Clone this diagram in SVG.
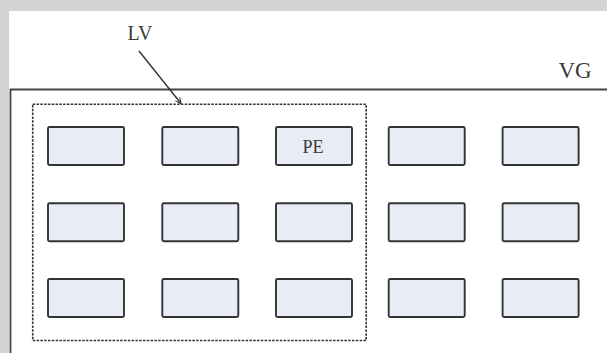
<svg xmlns="http://www.w3.org/2000/svg" width="607" height="353" viewBox="0 0 607 353">
  <style>
    .pe { fill: #e8ecf5; stroke: #333; stroke-width: 1.9; }
    .lbl { font-family: "Liberation Serif", "Times New Roman", serif; fill: #3a3a3a; }
  </style>
  <defs>
    <marker id="arr" viewBox="0 0 10 10" refX="9" refY="5" markerWidth="7" markerHeight="7" orient="auto" markerUnits="userSpaceOnUse">
      <path d="M1,1 L9,5 L1,9" fill="none" stroke="#333" stroke-width="1.5"/>
    </marker>
  </defs>
  <rect x="0" y="0" width="607" height="353" fill="#d4d4d4"/>
  <rect x="9" y="11" width="598" height="342" fill="#ffffff"/>

  <g id="VG">
    <path d="M10.5,353 L10.5,89.5 L607,89.5" fill="none" stroke="#444" stroke-width="1.8"/>
    <text class="lbl" x="575" y="78" font-size="23" text-anchor="middle">VG</text>
  </g>

  <g id="LV">
    <rect x="32.7" y="104.3" width="333.5" height="236.2" fill="none" stroke="#333" stroke-width="1.6" stroke-dasharray="2.5,1.3"/>
    <text class="lbl" x="140" y="39.5" font-size="20" text-anchor="middle">LV</text>
  </g>

  <g id="connectors">
    <line x1="139" y1="51" x2="181" y2="103.5" stroke="#333" stroke-width="1.4" marker-end="url(#arr)"/>
  </g>

  <g id="pe-1-1"><rect class="pe" x="48" y="127" width="76" height="38" rx="1.5"/></g>
  <g id="pe-1-2"><rect class="pe" x="162.3" y="127" width="76" height="38" rx="1.5"/></g>
  <g id="pe-1-3"><rect class="pe" x="276" y="127" width="76" height="38" rx="1.5"/>
    <text class="lbl" x="313" y="152.5" font-size="18" text-anchor="middle">PE</text></g>
  <g id="pe-1-4"><rect class="pe" x="388.7" y="127" width="76" height="38" rx="1.5"/></g>
  <g id="pe-1-5"><rect class="pe" x="502.6" y="127" width="76" height="38" rx="1.5"/></g>

  <g id="pe-2-1"><rect class="pe" x="48" y="203.3" width="76" height="38" rx="1.5"/></g>
  <g id="pe-2-2"><rect class="pe" x="162.3" y="203.3" width="76" height="38" rx="1.5"/></g>
  <g id="pe-2-3"><rect class="pe" x="276" y="203.3" width="76" height="38" rx="1.5"/></g>
  <g id="pe-2-4"><rect class="pe" x="388.7" y="203.3" width="76" height="38" rx="1.5"/></g>
  <g id="pe-2-5"><rect class="pe" x="502.6" y="203.3" width="76" height="38" rx="1.5"/></g>

  <g id="pe-3-1"><rect class="pe" x="48" y="279" width="76" height="38" rx="1.5"/></g>
  <g id="pe-3-2"><rect class="pe" x="162.3" y="279" width="76" height="38" rx="1.5"/></g>
  <g id="pe-3-3"><rect class="pe" x="276" y="279" width="76" height="38" rx="1.5"/></g>
  <g id="pe-3-4"><rect class="pe" x="388.7" y="279" width="76" height="38" rx="1.5"/></g>
  <g id="pe-3-5"><rect class="pe" x="502.6" y="279" width="76" height="38" rx="1.5"/></g>
</svg>
